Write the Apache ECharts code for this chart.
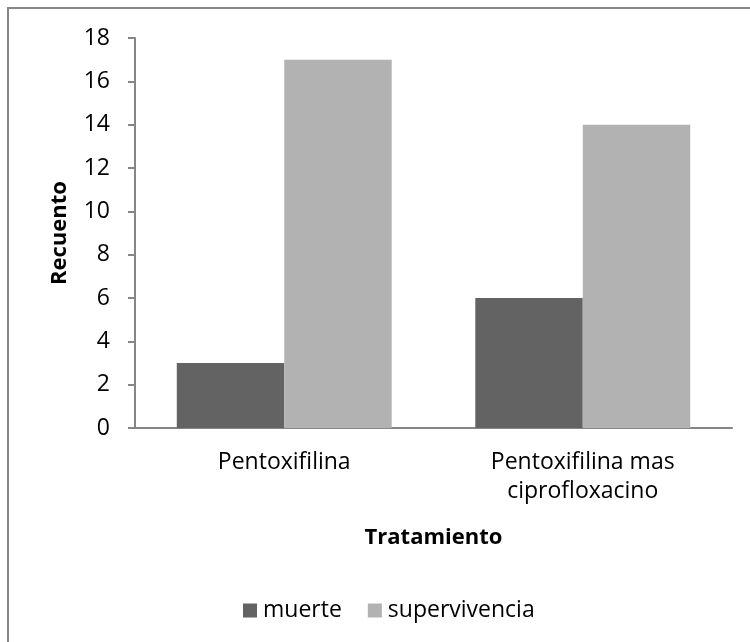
<!DOCTYPE html>
<html>
<head>
<meta charset="utf-8">
<script src="https://cdn.jsdelivr.net/npm/echarts@6/dist/echarts.min.js"></script>
<style>html,body{margin:0;padding:0;background:#fff}#c{width:750px;height:642px}</style>
</head>
<body>
<div id="c"></div>
<script>
const categories = ['Pentoxifilina', 'Pentoxifilina mas\nciprofloxacino'];
const muerte = [3, 6];
const supervivencia = [17, 14];
const seriesNames = ['muerte', 'supervivencia'];
const FONT = '"Open Sans", sans-serif';
const chart = echarts.init(document.getElementById('c'), null, {renderer: 'canvas'});
chart.setOption({
  backgroundColor: '#fff',
  animation: false,
  textStyle: {fontFamily: FONT, color: '#000'},
  graphic: [{
    type: 'rect', shape: {x: 8, y: 8, width: 800, height: 700},
    style: {fill: 'none', stroke: '#868686', lineWidth: 2}, silent: true
  }],
  legend: {
    data: seriesNames, left: 238, top: 594, itemWidth: 14, itemHeight: 14, itemGap: 26,
    icon: 'rect',
    textStyle: {fontFamily: FONT, fontSize: 23, color: '#000', padding: [0, 0, 0, 1]}
  },
  grid: {left: 135, right: 18, top: 38, bottom: 214, containLabel: false},
  xAxis: {
    type: 'category', data: categories,
    name: 'Tratamiento', nameLocation: 'middle', nameGap: 95,
    nameTextStyle: {fontFamily: FONT, fontSize: 22, fontWeight: 'bold', color: '#000', lineHeight: 29},
    axisLine: {show: true, lineStyle: {color: '#868686', width: 2}},
    axisTick: {show: false},
    axisLabel: {fontFamily: FONT, fontSize: 23, color: '#000', lineHeight: 29, margin: 20}
  },
  yAxis: {
    type: 'value', min: 0, max: 18, interval: 2,
    name: 'Recuento', nameLocation: 'middle', nameRotate: 90, nameGap: 64,
    nameTextStyle: {fontFamily: FONT, fontSize: 22, fontWeight: 'bold', color: '#000'},
    axisLine: {show: true, lineStyle: {color: '#868686', width: 2}},
    axisTick: {show: true, length: 7, lineStyle: {color: '#868686', width: 2}},
    splitLine: {show: false},
    axisLabel: {fontFamily: FONT, fontSize: 23, color: '#000', margin: 25}
  },
  series: [
    {name: seriesNames[0], type: 'bar', data: muerte, itemStyle: {color: '#636363'}, barGap: '0%', barCategoryGap: '28%'},
    {name: seriesNames[1], type: 'bar', data: supervivencia, itemStyle: {color: '#b2b2b2'}, barGap: '0%', barCategoryGap: '28%'}
  ]
});
</script>
</body>
</html>
